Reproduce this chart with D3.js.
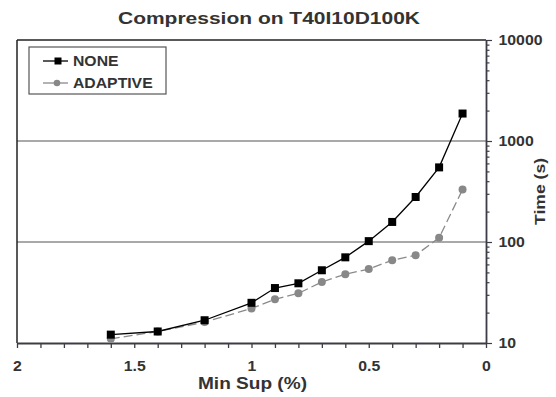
<!DOCTYPE html>
<html><head><meta charset="utf-8">
<script src="https://cdn.jsdelivr.net/npm/d3@7"></script>
<style>
html,body{margin:0;padding:0;background:#fff;}
svg{display:block;}
text{font-family:"Liberation Sans",Arial,sans-serif;font-weight:bold;fill:#333;}
</style></head>
<body>
<svg id="chart" width="556" height="397"></svg>
<script>
const minSup = [1.6, 1.4, 1.2, 1.0, 0.9, 0.8, 0.7, 0.6, 0.5, 0.4, 0.3, 0.2, 0.1];
const noneTime = [12.1, 13.0, 16.8, 25.0, 35, 39, 52.5, 70.5, 102, 158, 279, 548, 1870];
const adaptiveTime = [11.0, 13.0, 16.1, 22.0, 27.1, 31, 40.2, 47.9, 54, 66, 74, 110, 331];
const seriesNames = ["NONE", "ADAPTIVE"];
const xTickLabels = [2, 1.5, 1, 0.5, 0];
const yTickLabels = [10, 100, 1000, 10000];
const title = "Compression on T40I10D100K";
const xTitle = "Min Sup (%)";
const yTitle = "Time (s)";

const svg = d3.select("#chart");
const L = 17, R = 486, T = 40, B = 343;
const x = d3.scaleLinear().domain([2, 0]).range([L, R]);
const y = d3.scaleLog().domain([10, 10000]).range([B, T]);

function stretch(sel, f) {
  sel.each(function(){ const w = this.getComputedTextLength(); d3.select(this).attr("textLength", w * f).attr("lengthAdjust", "spacingAndGlyphs"); });
}

// gridlines at 100, 1000
svg.append("g").selectAll("line").data([100, 1000]).join("line")
  .attr("x1", L).attr("x2", R).attr("y1", d => y(d)).attr("y2", d => y(d))
  .attr("stroke", "#8c8c8c").attr("stroke-width", 1.5);

// frame left & top
svg.append("line").attr("x1", L).attr("x2", L).attr("y1", T).attr("y2", B).attr("stroke", "#222").attr("stroke-width", 1.5);
svg.append("line").attr("x1", L).attr("x2", R).attr("y1", T).attr("y2", T).attr("stroke", "#222").attr("stroke-width", 1.5);

// x axis
const xMinor = d3.range(0, 21).map(i => i / 10);
const xAxis = d3.axisBottom(x).tickValues(xMinor).tickSizeInner(5).tickSizeOuter(0).tickPadding(13)
  .tickFormat(d => xTickLabels.some(v => Math.abs(v - d) < 1e-9) ? d3.format("~g")(d) : "");
const gx = svg.append("g").attr("transform", `translate(0,${B})`).call(xAxis);
gx.select(".domain").attr("stroke", "#3c3c46").attr("stroke-width", 1.8);
gx.selectAll(".tick line").attr("stroke", "#3c3c46").attr("stroke-width", 1.3);
gx.selectAll(".tick text").attr("font-size", 14).style("font-family", '"Liberation Sans",Arial,sans-serif').style("font-weight", "bold").attr("fill", "#333");
stretch(gx.selectAll(".tick text").filter(function(){ return this.textContent !== ""; }), 1.13);

// y axis right
const yTicks = [];
[10, 100, 1000].forEach(p => { for (let k = 1; k <= 9; k++) yTicks.push(p * k); });
yTicks.push(10000);
const yAxis = d3.axisRight(y).tickValues(yTicks).tickSizeOuter(0).tickSizeInner(5).tickPadding(8)
  .tickFormat(d => yTickLabels.includes(d) ? String(d) : "");
const gy = svg.append("g").attr("transform", `translate(${R},0)`).call(yAxis);
gy.select(".domain").attr("stroke", "#3c3c46").attr("stroke-width", 1.8);
gy.selectAll(".tick line").attr("stroke", "#3c3c46").attr("stroke-width", 1.2)
  .attr("x2", d => yTickLabels.includes(d) ? 6 : 3.5);
gy.selectAll(".tick text").attr("font-size", 14).style("font-family", '"Liberation Sans",Arial,sans-serif').style("font-weight", "bold").attr("fill", "#333").attr("x", 12.5);
stretch(gy.selectAll(".tick text").filter(function(){ return this.textContent !== ""; }), 1.13);

// lines
const noneData = minSup.map((m, i) => [m, noneTime[i]]);
const adData = minSup.map((m, i) => [m, adaptiveTime[i]]);
const line = d3.line().x(d => x(d[0])).y(d => y(d[1]));
svg.append("path").datum(adData).attr("d", line).attr("fill", "none").attr("stroke", "#8a8a8a").attr("stroke-width", 1.3).attr("stroke-dasharray", "9,4");
svg.append("path").datum(noneData).attr("d", line).attr("fill", "none").attr("stroke", "#000").attr("stroke-width", 1.3);
svg.append("g").selectAll("circle").data(adData).join("circle")
  .attr("cx", d => x(d[0])).attr("cy", d => y(d[1])).attr("r", 4).attr("fill", "#888");
svg.append("g").selectAll("rect").data(noneData).join("rect")
  .attr("x", d => x(d[0]) - 4).attr("y", d => y(d[1]) - 4).attr("width", 8).attr("height", 8).attr("fill", "#000");

// legend
const lg = svg.append("g");
lg.append("rect").attr("x", 29).attr("y", 47).attr("width", 137).attr("height", 47).attr("fill", "#fff").attr("stroke", "#555").attr("stroke-width", 1.2);
const legY = [61, 83];
lg.append("line").attr("x1", 43).attr("x2", 68).attr("y1", legY[0]).attr("y2", legY[0]).attr("stroke", "#000").attr("stroke-width", 1.3);
lg.append("rect").attr("x", 54.5).attr("y", legY[0] - 3.5).attr("width", 7).attr("height", 7).attr("fill", "#000");
lg.append("line").attr("x1", 43).attr("x2", 68).attr("y1", legY[1]).attr("y2", legY[1]).attr("stroke", "#8a8a8a").attr("stroke-width", 1.3);
lg.append("circle").attr("cx", 57).attr("cy", legY[1]).attr("r", 3.3).attr("fill", "#888");
const lt = lg.selectAll("text.leg").data(seriesNames).join("text").attr("class", "leg")
  .attr("x", 73).attr("y", (d, i) => legY[i] + 5.3).attr("font-size", 15).text(d => d);
stretch(lt, 1.05);

// titles
const tt = svg.append("text").attr("x", 269).attr("y", 23.5).attr("text-anchor", "middle").attr("font-size", 17).text(title);
tt.attr("textLength", 302).attr("lengthAdjust", "spacingAndGlyphs");
const xt = svg.append("text").attr("x", 252.5).attr("y", 389).attr("text-anchor", "middle").attr("font-size", 17).text(xTitle);
xt.attr("textLength", 109).attr("lengthAdjust", "spacingAndGlyphs");
const yt = svg.append("text").attr("transform", "translate(545,191.5) rotate(-90)").attr("text-anchor", "middle").attr("font-size", 15.5).text(yTitle);
yt.attr("textLength", 67).attr("lengthAdjust", "spacingAndGlyphs");
</script>
</body></html>
